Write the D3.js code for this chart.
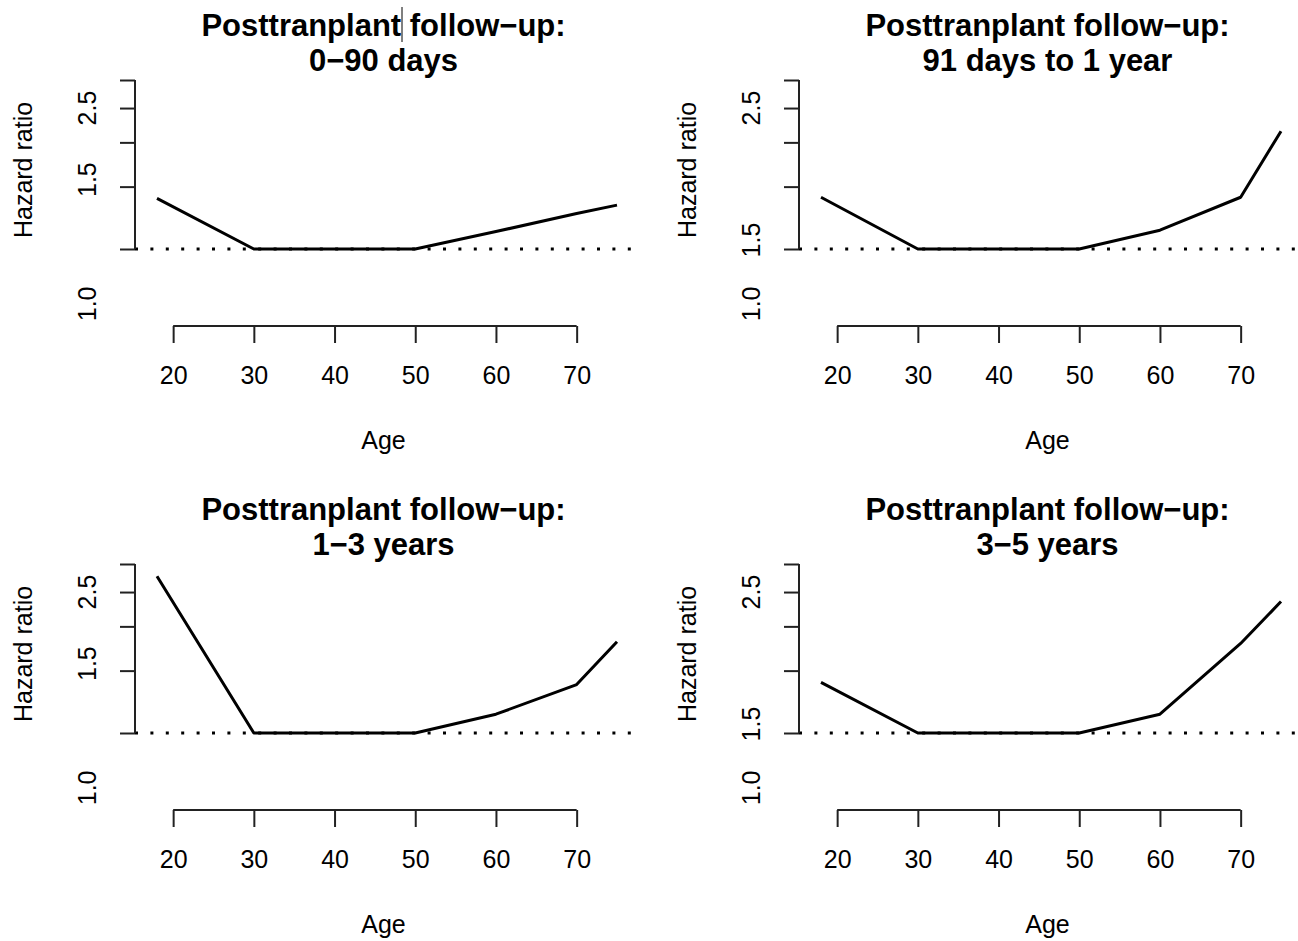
<!DOCTYPE html>
<html>
<head>
<meta charset="utf-8">
<script src="https://cdn.jsdelivr.net/npm/d3@7"></script>
<style>
  body { margin: 0; background: #fff; }
  text { font-family: "Liberation Sans", Arial, sans-serif; fill: #000; }
</style>
</head>
<body>
<svg width="1298" height="941"></svg>
<script>
const svg = d3.select("svg");

// data
const ages = [18, 30, 40, 50, 60, 70, 75];
const hr090 = [1.39, 1.0, 1.0, 1.0, 1.12, 1.26, 1.33];
const hr91to1y = [1.40, 1.0, 1.0, 1.0, 1.13, 1.40, 2.15];
const hr1to3y = [2.77, 1.0, 1.0, 1.0, 1.13, 1.37, 1.81];
const hr3to5y = [1.39, 1.0, 1.0, 1.0, 1.13, 1.79, 2.35];
const titles = ["0\u221290 days", "91 days to 1 year", "1\u22123 years", "3\u22125 years"];
const xTicks = [20, 30, 40, 50, 60, 70];
const yTicks = [1, 1.5, 2, 2.5, 3];
// the y labels do not sit on their ticks in the original
const yLabelsA = [{ text: "2.5", at: 2.5 }, { text: "1.5", at: 1.57 }, { text: "1.0", at: 0.70 }];
const yLabelsB = [{ text: "2.5", at: 2.5 }, { text: "1.5", at: 1.06 }, { text: "1.0", at: 0.70 }];

const panels = [
  { title: titles[0], hr: hr090, labels: yLabelsA, col: 0, row: 0 },
  { title: titles[1], hr: hr91to1y, labels: yLabelsB, col: 1, row: 0 },
  { title: titles[2], hr: hr1to3y, labels: yLabelsA, col: 0, row: 1 },
  { title: titles[3], hr: hr3to5y, labels: yLabelsB, col: 1, row: 1 }
];

const x = d3.scaleLinear().domain([18, 75]).range([157, 617]);
const y = d3.scaleLog().domain([1, 3]).range([249, 80]);
const plotLeft = 135, plotRight = 632;
const xAxisY = 326;

panels.forEach(function(p) {
  const g = svg.append("g")
    .attr("transform", "translate(" + (p.col * 664) + "," + (p.row * 484) + ")");

  // title
  const t = g.append("text")
    .attr("x", (plotLeft + plotRight) / 2)
    .attr("y", 36)
    .attr("text-anchor", "middle")
    .style("font-weight", "bold")
    .style("font-size", "31px");
  t.append("tspan").attr("x", (plotLeft + plotRight) / 2).text("Posttranplant follow\u2212up:");
  t.append("tspan").attr("x", (plotLeft + plotRight) / 2).attr("dy", 35).text(p.title);

  // reference line at HR = 1
  g.append("line")
    .attr("x1", plotLeft).attr("x2", plotRight)
    .attr("y1", y(1)).attr("y2", y(1))
    .attr("stroke", "#000")
    .attr("stroke-width", 3)
    .attr("stroke-dasharray", "3,12.4");

  // the curve
  const line = d3.line()
    .x(function(d, i) { return x(ages[i]); })
    .y(function(d) { return y(d); });
  g.append("path")
    .datum(p.hr)
    .attr("d", line)
    .attr("fill", "none")
    .attr("stroke", "#000")
    .attr("stroke-width", 3)
    .attr("stroke-linejoin", "round");

  // y axis: ticks from d3, labels placed by hand as in the source
  const yAxis = d3.axisLeft(y).tickValues(yTicks).tickSize(15).tickFormat("");
  const ya = g.append("g")
    .attr("transform", "translate(" + plotLeft + ",0)")
    .call(yAxis);
  ya.select(".domain").attr("d", "M0," + y(3) + "V" + y(1));
  ya.selectAll("line, path").attr("stroke", "#222").attr("stroke-width", 2);

  g.selectAll(".ylab")
    .data(p.labels)
    .join("text")
    .attr("class", "ylab")
    .attr("transform", function(d) { return "translate(96," + y(d.at) + ") rotate(-90)"; })
    .attr("text-anchor", "middle")
    .style("font-size", "25px")
    .text(function(d) { return d.text; });

  g.append("text")
    .attr("transform", "translate(32,170) rotate(-90)")
    .attr("text-anchor", "middle")
    .style("font-size", "25px")
    .text("Hazard ratio");

  // x axis
  const xAxis = d3.axisBottom(x).tickValues(xTicks).tickSize(17).tickPadding(23);
  const xa = g.append("g")
    .attr("transform", "translate(0," + xAxisY + ")")
    .call(xAxis);
  xa.select(".domain").attr("d", "M" + x(20) + ",0H" + x(70));
  xa.selectAll("line, path").attr("stroke", "#222").attr("stroke-width", 2);
  xa.selectAll("text")
    .style("font-size", "25px")
    .style("font-family", "'Liberation Sans', Arial, sans-serif")
    .attr("fill", "#000");

  g.append("text")
    .attr("x", (plotLeft + plotRight) / 2)
    .attr("y", 449)
    .attr("text-anchor", "middle")
    .style("font-size", "25px")
    .text("Age");
});

// stray text cursor visible in the first title
svg.append("line")
  .attr("x1", 402).attr("x2", 402)
  .attr("y1", 7).attr("y2", 42)
  .attr("stroke", "#000")
  .attr("stroke-width", 1);
</script>
</body>
</html>
